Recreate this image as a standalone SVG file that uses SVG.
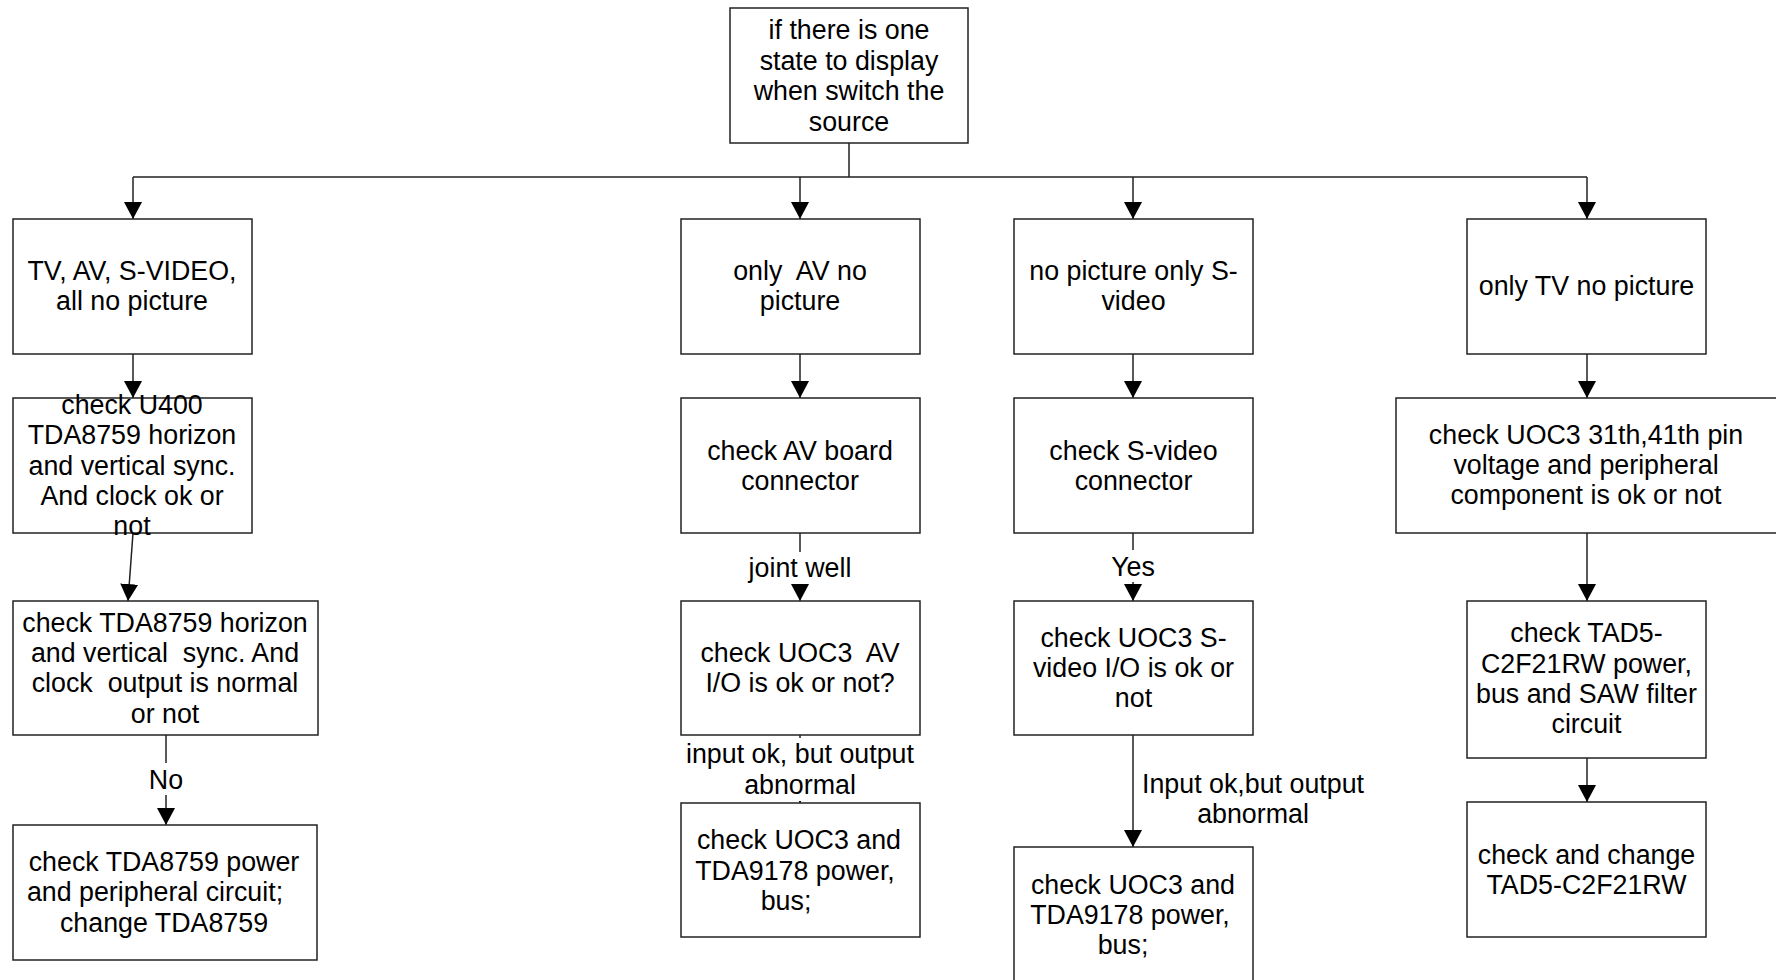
<svg xmlns="http://www.w3.org/2000/svg" width="1776" height="980" viewBox="0 0 1776 980">
<defs>
<style>
.box{fill:#fff;stroke:#222;stroke-width:1.5}
.ln{fill:none;stroke:#222;stroke-width:1.5}
.arr{marker-end:url(#ah)}
text{font-family:"Liberation Sans",Arial,sans-serif;font-size:26.8px;fill:#000;text-anchor:middle;transform:translateY(1.5px)}
.bg{fill:#fff}
</style>
<marker id="ah" markerUnits="userSpaceOnUse" markerWidth="18" markerHeight="18" refX="17" refY="9" orient="auto">
<path d="M0,0 L17,9 L0,18 z" fill="#000"/>
</marker>
</defs>
<rect width="1776" height="980" fill="#fff"/>

<g id="connectors">
<path class="ln" d="M849,143 V177 M133,177 H1587"/>
<path class="ln arr" d="M133,177 V219"/>
<path class="ln arr" d="M800,177 V219"/>
<path class="ln arr" d="M1133,177 V219"/>
<path class="ln arr" d="M1587,177 V219"/>
<path class="ln arr" d="M133,354 V398"/>
<path class="ln arr" d="M133,533 L128,601"/>
<path class="ln arr" d="M166,735 V825"/>
<rect class="bg" x="140" y="763" width="52" height="32"/>
<text x="166" y="787">No</text>
<path class="ln arr" d="M800,354 V398"/>
<path class="ln arr" d="M800,533 V601"/>
<rect class="bg" x="740" y="552" width="120" height="32"/>
<text x="800" y="575">joint well</text>
<path class="ln arr" d="M800,735 V803"/>
<rect class="bg" x="686" y="738" width="228" height="63"/>
<text x="800" y="761">input ok, but output</text>
<text x="800" y="792">abnormal</text>
<path class="ln arr" d="M1133,354 V398"/>
<path class="ln arr" d="M1133,533 V601"/>
<rect class="bg" x="1105" y="550" width="56" height="32"/>
<text x="1133" y="574">Yes</text>
<path class="ln arr" d="M1133,735 V847"/>
<text x="1253" y="791">Input ok,but output</text>
<text x="1253" y="821">abnormal</text>
<path class="ln arr" d="M1587,354 V398"/>
<path class="ln arr" d="M1587,533 V601"/>
<path class="ln arr" d="M1587,758 V802"/>
</g>

<g id="n_top">
<rect class="box" x="730" y="8" width="238" height="135"/>
<text x="849" y="37.5">if there is one</text>
<text x="849" y="68">state to display</text>
<text x="849" y="98.5">when switch the</text>
<text x="849" y="129">source</text>
</g>

<g id="n_all">
<rect class="box" x="13" y="219" width="239" height="135"/>
<text x="132" y="278">TV, AV, S-VIDEO,</text>
<text x="132" y="308">all no picture</text>
</g>
<g id="n_u400">
<rect class="box" x="13" y="398" width="239" height="135"/>
<text x="132" y="412">check U400</text>
<text x="132" y="442.5">TDA8759 horizon</text>
<text x="132" y="473">and vertical sync.</text>
<text x="132" y="503">And clock ok or</text>
<text x="132" y="533.5">not</text>
</g>
<g id="n_tda_sync">
<rect class="box" x="13" y="601" width="305" height="134"/>
<text x="165" y="630">check TDA8759 horizon</text>
<text x="165" y="660" xml:space="preserve">and vertical  sync. And</text>
<text x="165" y="690" xml:space="preserve">clock  output is normal</text>
<text x="165" y="721">or not</text>
</g>
<g id="n_tda_power">
<rect class="box" x="13" y="825" width="304" height="135"/>
<text x="164" y="869">check TDA8759 power</text>
<text x="155" y="899">and peripheral circuit;</text>
<text x="164" y="930">change TDA8759</text>
</g>

<g id="n_av">
<rect class="box" x="681" y="219" width="239" height="135"/>
<text x="800" y="278" xml:space="preserve">only  AV no</text>
<text x="800" y="308">picture</text>
</g>
<g id="n_av_conn">
<rect class="box" x="681" y="398" width="239" height="135"/>
<text x="800" y="458">check AV board</text>
<text x="800" y="488">connector</text>
</g>
<g id="n_av_io">
<rect class="box" x="681" y="601" width="239" height="134"/>
<text x="800" y="660" xml:space="preserve">check UOC3  AV</text>
<text x="800" y="690.5">I/O is ok or not?</text>
</g>
<g id="n_av_power">
<rect class="box" x="681" y="803" width="239" height="134"/>
<text x="799" y="847">check UOC3 and</text>
<text x="795" y="878">TDA9178 power,</text>
<text x="786" y="908">bus;</text>
</g>

<g id="n_sv">
<rect class="box" x="1014" y="219" width="239" height="135"/>
<text x="1133.5" y="278">no picture only S-</text>
<text x="1133.5" y="308">video</text>
</g>
<g id="n_sv_conn">
<rect class="box" x="1014" y="398" width="239" height="135"/>
<text x="1133.5" y="458">check S-video</text>
<text x="1133.5" y="488">connector</text>
</g>
<g id="n_sv_io">
<rect class="box" x="1014" y="601" width="239" height="134"/>
<text x="1133.5" y="645">check UOC3 S-</text>
<text x="1133.5" y="675">video I/O is ok or</text>
<text x="1133.5" y="705">not</text>
</g>
<g id="n_sv_power">
<rect class="box" x="1014" y="847" width="239" height="140"/>
<text x="1133" y="892">check UOC3 and</text>
<text x="1130" y="922">TDA9178 power,</text>
<text x="1123" y="952">bus;</text>
</g>

<g id="n_tv">
<rect class="box" x="1467" y="219" width="239" height="135"/>
<text x="1586.5" y="293">only TV no picture</text>
</g>
<g id="n_tv_uoc">
<rect class="box" x="1396" y="398" width="384" height="135"/>
<text x="1586" y="442">check UOC3 31th,41th pin</text>
<text x="1586" y="472">voltage and peripheral</text>
<text x="1586" y="502">component is ok or not</text>
</g>
<g id="n_tv_tad">
<rect class="box" x="1467" y="601" width="239" height="157"/>
<text x="1586.5" y="640">check TAD5-</text>
<text x="1586.5" y="671">C2F21RW power,</text>
<text x="1586.5" y="701">bus and SAW filter</text>
<text x="1586.5" y="731">circuit</text>
</g>
<g id="n_tv_change">
<rect class="box" x="1467" y="802" width="239" height="135"/>
<text x="1586.5" y="862">check and change</text>
<text x="1586.5" y="892">TAD5-C2F21RW</text>
</g>
</svg>
